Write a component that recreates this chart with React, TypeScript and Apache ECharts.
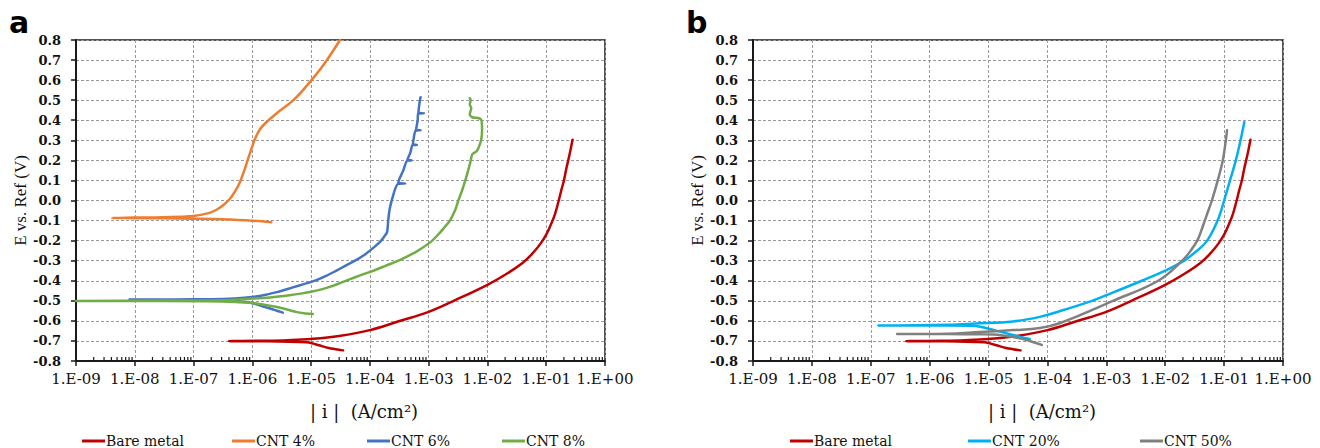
import React, { useEffect, useRef } from "react";
import * as echarts from "echarts";

// ---- Data: [current density |i| (A/cm2), potential E vs. Ref (V)] in measurement order ----
const bareMetal: [number, number][] = [
  [3.5e-5, -0.747], [2.6e-5, -0.741], [2.0e-5, -0.735], [1.3e-5, -0.72], [8.5e-6, -0.707],
  [3e-6, -0.703], [1.5e-6, -0.702], [4.0e-7, -0.701],
  [1.5e-6, -0.699], [4e-6, -0.696], [1e-5, -0.69], [3e-5, -0.675], [1e-4, -0.646],
  [3e-4, -0.603], [1e-3, -0.555], [3e-3, -0.493], [1e-2, -0.42], [2e-2, -0.37],
  [4e-2, -0.31], [6e-2, -0.26], [8e-2, -0.215], [1e-1, -0.17], [1.2e-1, -0.12],
  [1.4e-1, -0.07], [1.6e-1, -0.01], [1.8e-1, 0.05], [2e-1, 0.1], [2.2e-1, 0.16],
  [2.5e-1, 0.23], [2.8e-1, 0.303],
];

const cnt4: [number, number][] = [
  [2.1e-6, -0.109], [1e-6, -0.101], [3e-7, -0.094], [1e-7, -0.091], [3e-8, -0.089],
  [1e-8, -0.088], [4.1e-9, -0.087],
  [1e-8, -0.085], [3e-8, -0.083], [1e-7, -0.077], [1.8e-7, -0.063], [2.5e-7, -0.045],
  [3.3e-7, -0.02], [4.2e-7, 0.01], [5.2e-7, 0.05], [6.2e-7, 0.094], [7.3e-7, 0.15],
  [8.5e-7, 0.21], [1e-6, 0.27], [1.12e-6, 0.31], [1.35e-6, 0.355], [1.66e-6, 0.385],
  [2.6e-6, 0.435], [5e-6, 0.5], [9.5e-6, 0.59], [1.62e-5, 0.675], [3.1e-5, 0.8],
];

const cnt6: [number, number][] = [
  [3.3e-6, -0.559], [2.8e-6, -0.552], [2.2e-6, -0.542], [1.6e-6, -0.53], [1.1e-6, -0.515],
  [7e-7, -0.505], [4e-7, -0.5], [2e-7, -0.497], [5e-8, -0.495], [8.1e-9, -0.494],
  [5e-8, -0.493], [2e-7, -0.492], [5e-7, -0.488], [1e-6, -0.481], [1.7e-6, -0.47],
  [2.5e-6, -0.458], [3.5e-6, -0.446], [4.9e-6, -0.433], [7.5e-6, -0.417], [1.2e-5, -0.398],
  [1.8e-5, -0.376], [2.6e-5, -0.352], [3.8e-5, -0.326], [5.6e-5, -0.3], [8e-5, -0.272],
  [1.1e-4, -0.24], [1.5e-4, -0.205], [1.8e-4, -0.175], [1.95e-4, -0.16], [2.0e-4, -0.14],
  [2.05e-4, -0.1], [2.15e-4, -0.05], [2.35e-4, 0.0], [3.0e-4, 0.083], [4.0e-4, 0.085],
  [3.05e-4, 0.087], [3.1e-4, 0.1], [3.7e-4, 0.15], [4.3e-4, 0.198], [5.1e-4, 0.2],
  [4.35e-4, 0.202], [4.9e-4, 0.24], [5.3e-4, 0.275], [6.3e-4, 0.277], [5.4e-4, 0.28],
  [5.5e-4, 0.3], [6.0e-4, 0.348], [7.3e-4, 0.35], [6.1e-4, 0.352], [6.5e-4, 0.4],
  [6.6e-4, 0.432], [8.3e-4, 0.435], [6.7e-4, 0.438], [7.1e-4, 0.5], [7.3e-4, 0.515],
];

const cnt8: [number, number][] = [
  [1.07e-5, -0.566], [7.5e-6, -0.562], [5.5e-6, -0.555], [3.5e-6, -0.54], [2.5e-6, -0.53],
  [1.5e-6, -0.518], [9e-7, -0.51], [3e-7, -0.503], [3e-8, -0.501], [1e-9, -0.501],
  [3e-8, -0.499], [3e-7, -0.497], [1e-6, -0.489], [2e-6, -0.483], [4.3e-6, -0.472],
  [7e-6, -0.463], [1e-5, -0.455], [1.5e-5, -0.443], [2e-5, -0.432], [2.9e-5, -0.415],
  [4.5e-5, -0.393], [7e-5, -0.372], [1.1e-4, -0.352], [1.8e-4, -0.327], [3.2e-4, -0.297],
  [6e-4, -0.257], [1.1e-3, -0.205], [1.5e-3, -0.165], [1.9e-3, -0.13], [2.3e-3, -0.1],
  [2.8e-3, -0.05], [3.2e-3, 0.0], [3.7e-3, 0.05], [4.2e-3, 0.1], [4.7e-3, 0.15],
  [5.2e-3, 0.2], [5.5e-3, 0.23], [6.5e-3, 0.245], [7.0e-3, 0.26], [7.8e-3, 0.3],
  [8.1e-3, 0.35], [7.9e-3, 0.4], [7.2e-3, 0.41], [5.5e-3, 0.415], [5.0e-3, 0.43],
  [5.3e-3, 0.46], [5.0e-3, 0.48], [5.2e-3, 0.5], [5.0e-3, 0.51],
];

const cnt20: [number, number][] = [
  [5e-5, -0.69], [3.5e-5, -0.68], [2.6e-5, -0.67], [1.5e-5, -0.652], [9.3e-6, -0.637],
  [6e-6, -0.625], [2e-6, -0.623], [1.35e-7, -0.623],
  [2e-6, -0.619], [6e-6, -0.613], [2.6e-5, -0.603], [7.4e-5, -0.58], [1.6e-4, -0.552],
  [5.7e-4, -0.5], [1e-3, -0.472], [4e-3, -0.4], [1.05e-2, -0.347], [2.1e-2, -0.3],
  [3e-2, -0.265], [4e-2, -0.235], [5e-2, -0.205], [6.2e-2, -0.16], [7.5e-2, -0.11],
  [8.8e-2, -0.055], [1.0e-1, 0.0], [1.26e-1, 0.1], [1.58e-1, 0.2], [1.9e-1, 0.3],
  [2.2e-1, 0.39],
];

const cnt50: [number, number][] = [
  [8e-5, -0.72], [5e-5, -0.7], [2.6e-5, -0.68], [1.2e-5, -0.668], [7e-6, -0.667],
  [2e-6, -0.666], [2.8e-7, -0.666],
  [2e-6, -0.664], [7e-6, -0.656], [2.6e-5, -0.646], [7.4e-5, -0.636], [1.6e-4, -0.612],
  [1.3e-3, -0.5], [7.6e-3, -0.4], [1.95e-2, -0.3], [2.7e-2, -0.25], [3.5e-2, -0.2],
  [4.1e-2, -0.15], [4.7e-2, -0.1], [5.4e-2, -0.05], [6.2e-2, 0.0], [7.8e-2, 0.1],
  [9.5e-2, 0.2], [1.07e-1, 0.3], [1.12e-1, 0.35],
];

const namesA = ["Bare metal", "CNT 4%", "CNT 6%", "CNT 8%"];
const namesB = ["Bare metal", "CNT 20%", "CNT 50%"];
const yTitle = "E vs. Ref (V)";
const xTitle = "| i |  (A/cm²)";

const COLORS: Record<string, string> = {
  "Bare metal": "#C00000",
  "CNT 4%": "#ED7D31",
  "CNT 6%": "#4472C4",
  "CNT 8%": "#70AD47",
  "CNT 20%": "#00B0F0",
  "CNT 50%": "#808080",
};

const SERIF = "'DejaVu Serif', 'Liberation Serif', serif";

function xLabel(v: number): string {
  const e = Math.round(Math.log10(v));
  const a = Math.abs(e);
  return "1.E" + (e < 0 ? "-" : "+") + (a < 10 ? "0" + a : "" + a);
}

function yLabel(v: number): string {
  if (Math.abs(v) < 1e-9) return "0.0";
  return v.toFixed(1);
}

const minorTicks: [number, number][] = [];
for (let e = -9; e < 0; e++) {
  for (let m = 2; m <= 9; m++) minorTicks.push([m * Math.pow(10, e), -0.8]);
}

function makeAxes(idx: number) {
  const xAxis = {
    type: "log",
    gridIndex: idx,
    min: 1e-9,
    max: 1,
    logBase: 10,
    splitNumber: 9,
    axisLine: { show: true, onZero: false, lineStyle: { color: "#1a1a1a", width: 2 } },
    axisTick: { show: true, length: 5, inside: false, lineStyle: { color: "#1a1a1a", width: 1.5 } },
    axisLabel: {
      interval: 0,
      formatter: xLabel,
      color: "#111",
      fontFamily: SERIF,
      fontSize: 15,
      margin: 10,
      showMinLabel: true,
      showMaxLabel: true,
    },
    splitLine: { show: true, lineStyle: { color: "#9a9a9a", width: 1, type: [3, 2] } },
  };
  const yAxis = {
    type: "value",
    gridIndex: idx,
    min: -0.8,
    max: 0.8,
    interval: 0.1,
    name: yTitle,
    nameLocation: "middle",
    nameGap: 45,
    nameRotate: 90,
    nameTextStyle: { fontFamily: "Liberation Serif", fontSize: 17, color: "#111" },
    axisLine: { show: true, onZero: false, lineStyle: { color: "#1a1a1a", width: 2 } },
    axisTick: { show: true, length: 5, inside: false, lineStyle: { color: "#1a1a1a", width: 1.5 } },
    axisLabel: {
      formatter: yLabel,
      color: "#111",
      fontFamily: SERIF,
      fontWeight: "bold",
      fontSize: 13,
      margin: 15,
    },
    splitLine: { show: true, lineStyle: { color: "#9a9a9a", width: 1, type: [3, 2] } },
  };
  return { xAxis, yAxis };
}

function lineSeries(name: string, data: [number, number][], idx: number, smooth: number | boolean) {
  return {
    type: "line",
    name,
    xAxisIndex: idx,
    yAxisIndex: idx,
    data,
    showSymbol: false,
    symbol: "none",
    smooth,
    itemStyle: { color: COLORS[name] },
    lineStyle: { color: COLORS[name], width: 2.5, join: "round", cap: "round" },
    emphasis: { disabled: true },
    silent: true,
  };
}

function minorTickSeries(idx: number) {
  return {
    type: "custom",
    xAxisIndex: idx,
    yAxisIndex: idx,
    silent: true,
    clip: false,
    z: 5,
    data: minorTicks,
    renderItem: (_params: any, api: any) => {
      const p = api.coord([api.value(0), api.value(1)]);
      return {
        type: "line",
        shape: { x1: p[0], y1: p[1], x2: p[0], y2: p[1] - 4 },
        style: { stroke: "#1a1a1a", lineWidth: 1.2 },
      };
    },
  };
}

function legendItem(name: string, left: number) {
  return {
    data: [name],
    left,
    top: 429,
    icon: "rect",
    itemWidth: 23,
    itemHeight: 3,
    selectedMode: false,
    textStyle: { fontFamily: SERIF, fontSize: 14, color: "#111", padding: [0, 0, 0, -4] },
  };
}

export default function App() {
  const ref = useRef<HTMLDivElement>(null);

  useEffect(() => {
    if (!ref.current) return;
    const chart = echarts.init(ref.current, undefined, { renderer: "svg" });
    const a = makeAxes(0);
    const b = makeAxes(1);
    const legendLeftA = [77, 227, 362, 497];
    const legendLeftB = [785, 963, 1135];
    const option: any = {
      animation: false,
      backgroundColor: "#ffffff",
      grid: [
        { left: 76, top: 40, width: 529, height: 321, show: true, borderColor: "#1a1a1a", borderWidth: 1.5, backgroundColor: "transparent", outerBoundsMode: "none" },
        { left: 753, top: 40, width: 530, height: 321, show: true, borderColor: "#1a1a1a", borderWidth: 1.5, backgroundColor: "transparent", outerBoundsMode: "none" },
      ],
      xAxis: [a.xAxis, b.xAxis],
      yAxis: [a.yAxis, b.yAxis],
      legend: [
        ...namesA.map((n, i) => legendItem(n, legendLeftA[i])),
        ...namesB.map((n, i) => legendItem(n, legendLeftB[i])),
      ],
      graphic: [
        { type: "text", x: 9, y: 22, style: { text: "a", font: "bold 30px 'DejaVu Sans', sans-serif", fill: "#000", textVerticalAlign: "middle" } },
        { type: "text", x: 686, y: 22, style: { text: "b", font: "bold 30px 'DejaVu Sans', sans-serif", fill: "#000", textVerticalAlign: "middle" } },
        { type: "text", x: 364, y: 411, style: { text: xTitle, font: "18px 'DejaVu Serif', serif", fill: "#111", textAlign: "center", textVerticalAlign: "middle" } },
        { type: "text", x: 1042, y: 411, style: { text: xTitle, font: "18px 'DejaVu Serif', serif", fill: "#111", textAlign: "center", textVerticalAlign: "middle" } },
      ],
      series: [
        minorTickSeries(0),
        minorTickSeries(1),
        lineSeries("Bare metal", bareMetal, 0, 0.4),
        lineSeries("CNT 4%", cnt4, 0, 0.4),
        lineSeries("CNT 6%", cnt6, 0, 0.25),
        lineSeries("CNT 8%", cnt8, 0, 0.25),
        lineSeries("Bare metal", bareMetal, 1, 0.4),
        lineSeries("CNT 20%", cnt20, 1, 0.4),
        lineSeries("CNT 50%", cnt50, 1, 0.4),
      ],
    };
    chart.setOption(option);
    return () => chart.dispose();
  }, []);

  return (
    <div
      ref={ref}
      style={{ position: "absolute", left: 0, top: 0, width: 1320, height: 448, background: "#fff" }}
    />
  );
}
